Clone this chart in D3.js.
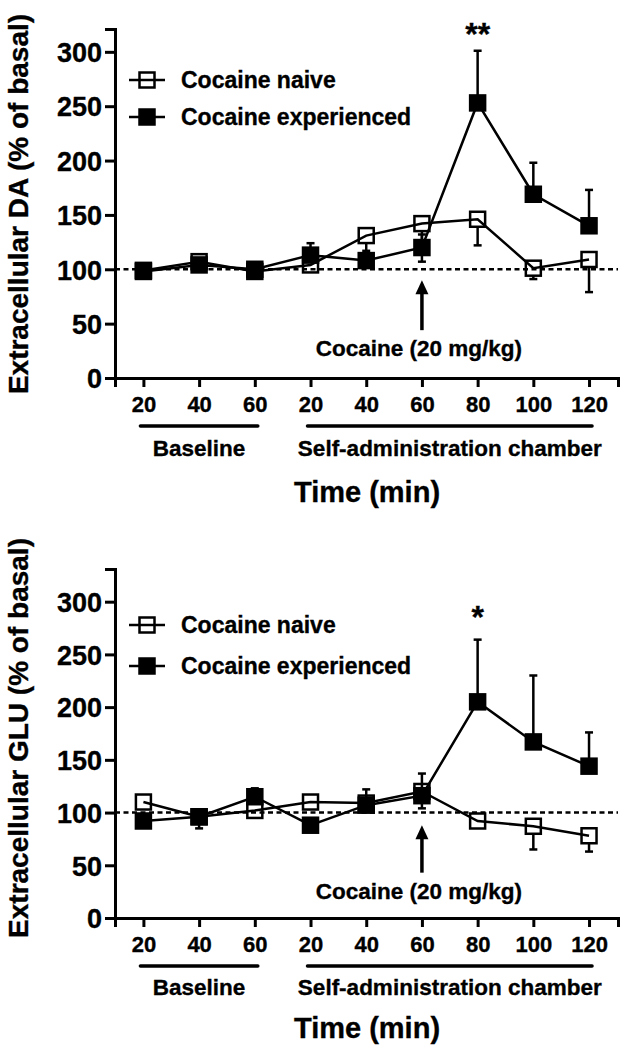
<!DOCTYPE html>
<html>
<head>
<meta charset="utf-8">
<script src="https://cdn.jsdelivr.net/npm/d3@7"></script>
<style>
  body { margin: 0; background: #fff; }
  svg text { font-family: "Liberation Sans", Arial, sans-serif; font-weight: bold; fill: #000; stroke: #000; stroke-width: 0.35px; }
</style>
</head>
<body>
<div id="chart"></div>
<script>
// time points (two sessions: baseline + self-administration chamber)
const timeLabels = ["20", "40", "60", "20", "40", "60", "80", "100", "120"]
const groupLabels = ["Baseline", "Self-administration chamber"]
const groupStart = [0, 3]
const groupEnd = [2, 8]
const yTicks = [0, 50, 100, 150, 200, 250, 300]
const seriesNames = ["Cocaine naive", "Cocaine experienced"]

// DA panel (% of basal, mean and SEM)
const daNaive = [99, 107, 98, 104, 131, 142, 146, 101, 109]
const daNaiveSem = [3, 3, 3, 4, 14, 35, 24, 10, 30]
const daExperienced = [98, 104, 100, 113, 108, 120, 253, 169, 140]
const daExperiencedSem = [4, 4, 3, 11, 5, 12, 48, 29, 33]

// GLU panel
const gluNaive = [110, 96, 102, 110, 109, 120, 92, 87, 78]
const gluNaiveSem = [4, 11, 4, 3, 4, 16, 7, 22, 15]
const gluExperienced = [92, 96, 115, 88, 107, 116, 205, 167, 144]
const gluExperiencedSem = [3, 4, 8, 3, 15, 21, 59, 63, 32]

const width = 625
const height = 1050
const font = '"Liberation Sans", Arial, sans-serif'

const svg = d3.select("#chart")
  .append("svg")
    .attr("width", width)
    .attr("height", height)

const panels = [
  {
    yLabel: "Extracellular DA (% of basal)",
    naive: daNaive, naiveSem: daNaiveSem,
    exp: daExperienced, expSem: daExperiencedSem,
    yBottom: 378, yTop: 29, yMax: 321,
    yLabelY: 204,
    legendY: [80, 117],
    sig: "**", sigIndex: 6, sigGap: 6,
    arrowTail: 44, arrowTip: 90, cocaineAt: 27,
    under: 48, groupText: 70, titleText: 114
  },
  {
    yLabel: "Extracellular GLU (% of basal)",
    naive: gluNaive, naiveSem: gluNaiveSem,
    exp: gluExperienced, expSem: gluExperiencedSem,
    yBottom: 918, yTop: 569, yMax: 331,
    yLabelY: 738,
    legendY: [625, 666],
    sig: "*", sigIndex: 6, sigGap: 12,
    arrowTail: 43, arrowTip: 88, cocaineAt: 25,
    under: 48, groupText: 69, titleText: 110
  }
]

const xScale = d3.scaleLinear()
  .domain([-0.51, 8.52])
  .range([115, 618])

const markerSize = 15

const drawPanel = (p) => {
  const yScale = d3.scaleLinear()
    .domain([0, p.yMax])
    .range([p.yBottom, p.yTop])

  const g = svg.append("g")

  // axes
  const yAxis = g.append("g")
    .attr("transform", "translate(" + xScale.range()[0] + ",0)")
    .call(d3.axisLeft(yScale).tickValues(yTicks).tickSizeOuter(0).tickSize(10).tickPadding(3))
  yAxis.selectAll("text")
    .style("font-size", "27px")
    .style("font-family", font)
    .attr("dy", "0.36em")

  const xAxis = g.append("g")
    .attr("transform", "translate(0," + p.yBottom + ")")
    .call(d3.axisBottom(xScale)
      .tickValues(d3.range(timeLabels.length))
      .tickFormat(i => timeLabels[i])
      .tickSizeOuter(0).tickSize(9).tickPadding(9))
  xAxis.selectAll("text")
    .style("font-size", "22px")
    .style("font-family", font)

  g.selectAll(".domain, .tick line")
    .attr("stroke", "#000")
    .attr("stroke-width", 3)

  // y axis label
  g.append("text")
    .attr("transform", "translate(18," + p.yLabelY + ") rotate(-90)")
    .attr("text-anchor", "middle")
    .attr("dominant-baseline", "central")
    .style("font-size", "28px")
    .text(p.yLabel)

  // session underlines and names
  groupLabels.forEach((label, k) => {
    const x0 = xScale(groupStart[k]) - 3
    const x1 = xScale(groupEnd[k]) + 3
    g.append("line")
      .attr("x1", x0).attr("x2", x1)
      .attr("y1", p.yBottom + p.under).attr("y2", p.yBottom + p.under)
      .attr("stroke", "#000")
      .attr("stroke-width", 3.5)
      .attr("stroke-linecap", "round")
    g.append("text")
      .attr("x", (x0 + x1) / 2)
      .attr("y", p.yBottom + p.groupText)
      .attr("text-anchor", "middle")
      .attr("dominant-baseline", "central")
      .style("font-size", "22.5px")
      .text(label)
  })

  g.append("text")
    .attr("x", 367)
    .attr("y", p.yBottom + p.titleText)
    .attr("text-anchor", "middle")
    .attr("dominant-baseline", "central")
    .style("font-size", "29px")
    .text("Time (min)")

  // basal reference line
  g.append("line")
    .attr("x1", xScale.range()[0]).attr("x2", xScale.range()[1])
    .attr("y1", yScale(100)).attr("y2", yScale(100))
    .attr("stroke", "#000")
    .attr("stroke-width", 2.5)
    .attr("stroke-dasharray", "5,3.5")

  // injection arrow
  const ax = xScale(5)
  const tipY = yScale(p.arrowTip)
  g.append("line")
    .attr("x1", ax).attr("x2", ax)
    .attr("y1", yScale(p.arrowTail)).attr("y2", tipY + 10)
    .attr("stroke", "#000")
    .attr("stroke-width", 3.5)
  g.append("path")
    .attr("d", "M" + ax + "," + tipY + " L" + (ax - 6.5) + "," + (tipY + 14) + " L" + (ax + 6.5) + "," + (tipY + 14) + " Z")
    .attr("fill", "#000")
  g.append("text")
    .attr("x", ax - 3)
    .attr("y", yScale(p.cocaineAt))
    .attr("text-anchor", "middle")
    .attr("dominant-baseline", "central")
    .style("font-size", "22.5px")
    .text("Cocaine (20 mg/kg)")

  const line = d3.line()
    .x((d, i) => xScale(i))
    .y(d => yScale(d))

  const series = [
    {values: p.naive, sem: p.naiveSem, dir: -1, fill: "none"},
    {values: p.exp, sem: p.expSem, dir: 1, fill: "#000"}
  ]

  series.forEach(s => {
    g.append("path")
      .datum(s.values)
      .attr("fill", "none")
      .attr("stroke", "#000")
      .attr("stroke-width", 2.5)
      .attr("d", line)

    // one-sided error bars
    const eb = g.append("g")
    s.values.forEach((v, i) => {
      const xc = xScale(i)
      const yEnd = yScale(v + s.dir * s.sem[i])
      const yStart = yScale(v) - s.dir * markerSize / 2
      if (Math.abs(yEnd - yScale(v)) <= markerSize / 2) return
      eb.append("line")
        .attr("x1", xc).attr("x2", xc)
        .attr("y1", yStart).attr("y2", yEnd)
        .attr("stroke", "#000").attr("stroke-width", 2.5)
      eb.append("line")
        .attr("x1", xc - 4).attr("x2", xc + 4)
        .attr("y1", yEnd).attr("y2", yEnd)
        .attr("stroke", "#000").attr("stroke-width", 2.5)
    })

    g.append("g")
      .selectAll("rect")
      .data(s.values)
      .join("rect")
        .attr("x", (d, i) => xScale(i) - markerSize / 2)
        .attr("y", d => yScale(d) - markerSize / 2)
        .attr("width", markerSize)
        .attr("height", markerSize)
        .attr("fill", s.fill)
        .attr("stroke", "#000")
        .attr("stroke-width", 2.5)
  })

  // significance mark
  const si = p.sigIndex
  g.append("text")
    .attr("x", xScale(si))
    .attr("y", yScale(p.exp[si] + p.expSem[si]) - p.sigGap)
    .attr("text-anchor", "middle")
    .style("font-size", "32px")
    .text(p.sig)

  // legend
  seriesNames.forEach((name, k) => {
    const ly = p.legendY[k]
    g.append("line")
      .attr("x1", 129).attr("x2", 165)
      .attr("y1", ly).attr("y2", ly)
      .attr("stroke", "#000").attr("stroke-width", 2.5)
    g.append("rect")
      .attr("x", 147 - markerSize / 2).attr("y", ly - markerSize / 2)
      .attr("width", markerSize).attr("height", markerSize)
      .attr("fill", k === 0 ? "none" : "#000")
      .attr("stroke", "#000").attr("stroke-width", 2.5)
    g.append("text")
      .attr("x", 181)
      .attr("y", ly)
      .attr("dominant-baseline", "central")
      .style("font-size", "23px")
      .text(name)
  })
}

panels.forEach(drawPanel)
</script>
</body>
</html>
